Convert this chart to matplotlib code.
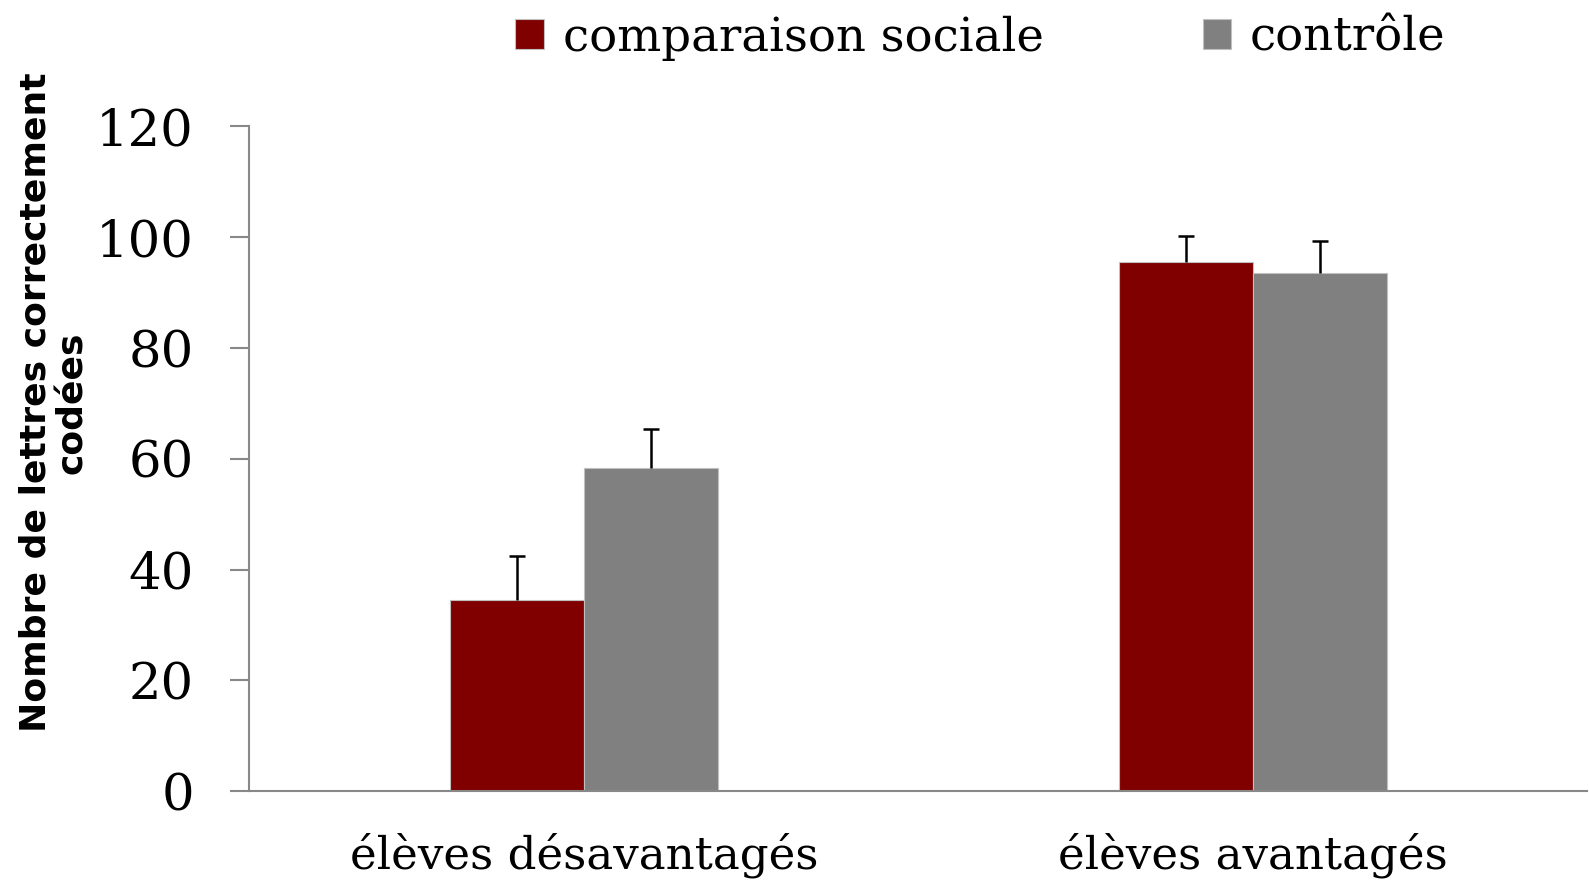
import matplotlib
matplotlib.use("Agg")
import matplotlib.pyplot as plt
import numpy as np

categories = ["élèves désavantagés", "élèves avantagés"]
series_names = ["comparaison sociale", "contrôle"]
comparaison = [34.5, 95.5]
controle = [58.4, 93.5]
err_comparaison = [7.9, 4.6]
err_controle = [7.0, 5.7]
y_ticks = [0, 20, 40, 60, 80, 100, 120]
y_label = "Nombre de lettres correctement\ncodées"

colors = ["#800000", "#808080"]

fig = plt.figure(figsize=(15.89, 8.88), dpi=100)
ax = fig.add_axes([0.157, 0.109, 0.842, 0.749])

x = np.arange(len(categories))
w = 0.2
ax.bar(x - w / 2, comparaison, w, color=colors[0], edgecolor="#c0c0c0", linewidth=0.8,
       label=series_names[0], zorder=2)
ax.bar(x + w / 2, controle, w, color=colors[1], edgecolor="#c0c0c0", linewidth=0.8,
       label=series_names[1], zorder=2)
for xs, vals, errs in [(x - w / 2, comparaison, err_comparaison),
                       (x + w / 2, controle, err_controle)]:
    eb = ax.errorbar(xs, vals, yerr=[np.zeros(2), errs], fmt="none",
                     ecolor="black", elinewidth=1.8, capsize=6, capthick=1.8, zorder=3)
    eb[1][0].set_visible(False)

ax.set_xlim(-0.5, 1.5)
ax.set_ylim(0, 120)
ax.set_yticks(y_ticks)
ax.set_xticks(x)
ax.set_xticklabels(categories, fontsize=32.5, family="DejaVu Serif")
for lab in ax.get_yticklabels():
    lab.set_fontsize(37)
    lab.set_family("DejaVu Serif")
ax.tick_params(axis="y", length=14, width=1.5, color="#888888", pad=26)
ax.tick_params(axis="x", length=0, pad=30)

for s in ["top", "right"]:
    ax.spines[s].set_visible(False)
for s in ["left", "bottom"]:
    ax.spines[s].set_color("#888888")
    ax.spines[s].set_linewidth(1.5)

fig.text(0.034, 0.547, y_label, rotation=90, ha="center", va="center",
         fontsize=26, fontweight="bold", family="DejaVu Sans", linespacing=1.1)

leg = fig.legend(loc="upper center", bbox_to_anchor=(0.617, 1.03), ncol=2, frameon=False,
                 prop={"family": "DejaVu Serif", "size": 33.5}, handlelength=0.62,
                 handleheight=0.62, handletextpad=0.4, columnspacing=3.42)

fig.savefig("out.png", dpi=100)
